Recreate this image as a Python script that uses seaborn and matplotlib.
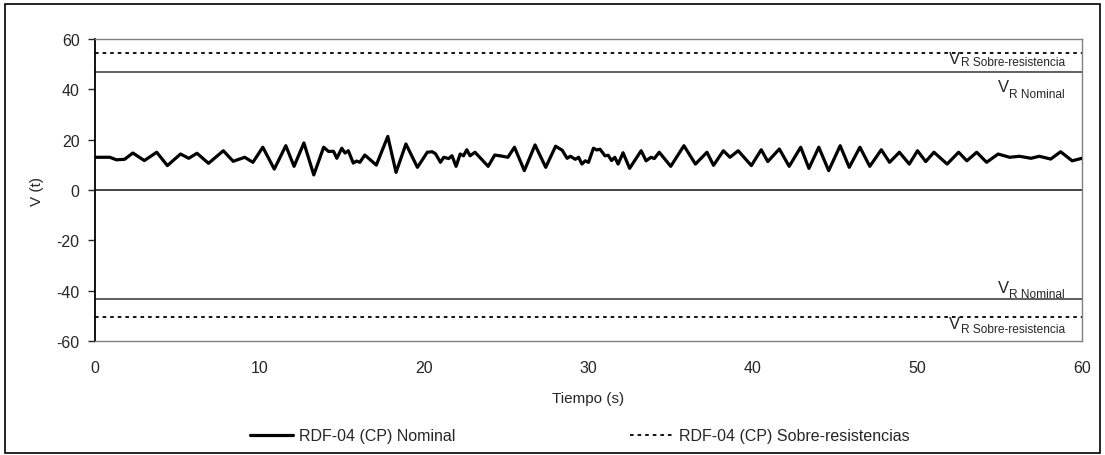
import numpy as np
import pandas as pd
import matplotlib
matplotlib.use("Agg")
import matplotlib.pyplot as plt
from matplotlib.patches import Rectangle
import seaborn as sns

sns.set_style("white")
plt.rcParams['font.family'] = ['Liberation Sans', 'DejaVu Sans']
plt.rcParams['axes.unicode_minus'] = False

# valores (extremos locales de la senal)
tiempo = [0.0, 0.9, 1.3, 1.8, 2.3, 3.0, 3.75, 4.4, 5.2, 5.7, 6.2, 6.9, 7.8, 8.4, 9.1, 9.6,
          10.2, 10.9, 11.6, 12.1, 12.7, 13.3, 13.9, 14.2, 14.5, 14.7, 15.0, 15.2, 15.4, 15.7,
          15.9, 16.1, 16.4, 16.7, 17.1, 17.8, 18.3, 18.9, 19.6, 20.2, 20.5, 20.7, 21.0, 21.2,
          21.5, 21.7, 21.95, 22.2, 22.4, 22.6, 22.8, 23.1, 23.9, 24.3, 24.7, 25.1, 25.5, 26.1,
          26.75, 27.4, 28.0, 28.4, 28.7, 28.9, 29.2, 29.4, 29.6, 29.8, 30.0, 30.3, 30.5, 30.7,
          31.0, 31.2, 31.4, 31.6, 31.8, 32.1, 32.5, 33.2, 33.5, 33.8, 34.0, 34.3, 35.0, 35.8,
          36.5, 37.2, 37.6, 38.2, 38.6, 39.1, 39.9, 40.5, 40.9, 41.6, 42.2, 42.9, 43.4, 44.0,
          44.6, 45.3, 45.85, 46.5, 47.1, 47.8, 48.3, 48.9, 49.5, 50.0, 50.5, 51.0, 51.8, 52.5,
          53.0, 53.6, 54.2, 54.9, 55.6, 56.2, 56.9, 57.4, 58.1, 58.7, 59.4, 60.0]
cortante = [13.0, 13.0, 12.0, 12.2, 14.7, 11.7, 15.0, 9.7, 14.3, 12.6, 14.6, 10.6, 15.6, 11.4, 13.0, 11.0,
            17.0, 8.3, 17.6, 9.4, 18.7, 6.0, 17.0, 15.3, 15.4, 12.6, 16.6, 14.7, 15.6, 10.7,
            11.5, 11.0, 13.9, 12.2, 9.9, 21.3, 7.0, 18.3, 9.0, 15.0, 15.2, 14.4, 11.0, 13.0,
            12.5, 13.6, 9.4, 14.3, 13.6, 16.0, 13.6, 15.0, 9.4, 13.9, 13.5, 13.0, 17.0, 7.7,
            17.9, 9.0, 17.4, 15.8, 12.6, 13.4, 12.2, 13.0, 10.3, 11.6, 11.0, 16.6, 15.9, 16.2,
            13.6, 13.8, 11.7, 13.0, 10.3, 14.8, 8.6, 15.6, 11.6, 13.0, 12.5, 15.0, 9.4, 17.6,
            10.3, 15.0, 9.8, 15.6, 13.0, 15.6, 9.7, 16.0, 11.3, 16.3, 9.4, 17.0, 8.6, 17.0,
            7.7, 17.6, 9.0, 17.0, 9.4, 16.0, 11.0, 15.0, 10.3, 15.6, 11.3, 15.0, 10.3, 15.0,
            11.6, 15.0, 11.0, 14.3, 13.0, 13.4, 12.6, 13.4, 12.3, 15.2, 11.6, 12.6]

vr_nominal = [47.0, -43.4]
vr_sobre = [54.6, -50.5]

df = pd.DataFrame({"t": tiempo, "V": cortante})

fig = plt.figure(figsize=(11.05, 4.56), dpi=100)
ax = fig.add_axes([95 / 1105, 1 - 342 / 456, 987 / 1105, 302 / 456])

sns.lineplot(data=df, x="t", y="V", ax=ax, color="black", lw=2.3,
             solid_joinstyle="round", label="RDF-04 (CP) Nominal", zorder=5)
ax.axhline(0, color="#222222", lw=1.2)
for v in vr_nominal:
    ax.axhline(v, color="#333333", lw=1.1)
l_sob = None
for v in vr_sobre:
    l_sob = ax.axhline(v, color="black", lw=1.3, ls=(0, (2, 2.2)))
l_sob.set_label("RDF-04 (CP) Sobre-resistencias")

ax.set_xlim(0, 60)
ax.set_ylim(-60, 60)
ax.set_xticks(range(0, 61, 10))
ax.set_yticks(range(-60, 61, 20))
ax.tick_params(axis="x", length=0, pad=14, labelsize=11.5)
ax.tick_params(axis="y", left=True, length=5, width=1, direction="out", pad=6, labelsize=11.5)

for s in ["top", "right", "bottom"]:
    ax.spines[s].set_color("#808080")
    ax.spines[s].set_linewidth(1.0)
ax.spines["left"].set_color("black")
ax.spines["left"].set_linewidth(1.3)

ax.set_xlabel("Tiempo (s)", fontsize=11)
ax.set_ylabel("V (t)", fontsize=11)
ax.xaxis.set_label_coords(0.5, -0.165)
ax.yaxis.set_label_coords(-0.052, 0.5)

# etiquetas V_R
etiquetas = [(52.4, 50.9, "Sobre-resistencia"),
             (41.3, 38.2, "Nominal"),
             (-38.6, -41.3, "Nominal"),
             (-53.1, -55.2, "Sobre-resistencia")]
for yv, ys, sub in etiquetas:
    t_sub = ax.text(58.97, ys, "R " + sub, ha="right", va="center", fontsize=8.6)
    ax.annotate("V", xy=(0, 0.5), xycoords=t_sub, xytext=(-0.5, (yv - ys) * 1.8),
                textcoords="offset points", ha="right", va="center", fontsize=12)

ax.get_legend().remove()
h, lab = ax.get_legend_handles_labels()
fig.legend(h, lab, loc="center", bbox_to_anchor=(580 / 1105, 1 - 437 / 456), ncol=2,
           frameon=False, fontsize=11.5, handlelength=2.7, handletextpad=0.4,
           columnspacing=10.9)

fig.patches.append(Rectangle((5 / 1105, 2 / 456), 1095 / 1105, 449 / 456,
                             transform=fig.transFigure, fill=False, edgecolor="black", lw=1.2))

fig.savefig("out.png", dpi=100)
